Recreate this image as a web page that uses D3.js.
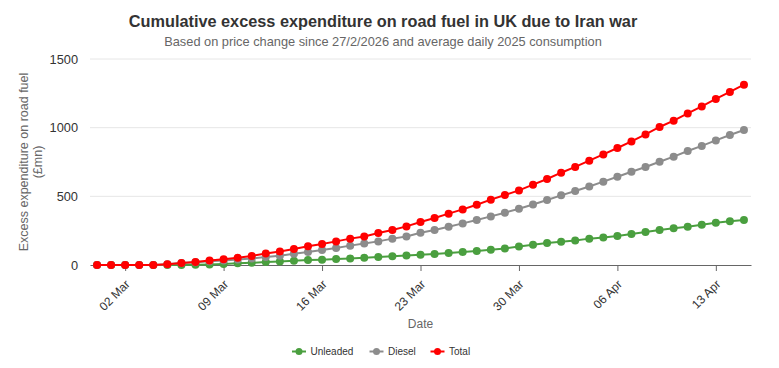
<!DOCTYPE html>
<html>
<head>
<meta charset="utf-8">
<script src="https://cdn.jsdelivr.net/npm/d3@7"></script>
<style>
  body { margin: 0; background: #fff; }
  svg { font-family: "Liberation Sans", Arial, sans-serif; }
</style>
</head>
<body>
<svg id="chart" width="779" height="368"></svg>
<script>
// data: one point per day, 28 Feb to 15 Apr 2026
const startDate = new Date(2026, 1, 28);
const dayCount  = 47;

const unleaded = [0, 0, 0, 0, 0, 0, 0, 2, 4, 8, 12, 16, 22, 26, 31, 36, 39, 44, 48, 53,
  58, 63, 69, 74, 80, 87, 95, 102, 111, 121, 135, 148, 160, 170, 179, 192, 201, 211,
  226, 240, 255, 267, 279, 293, 308, 318, 328];
const diesel = [0, 0, 0, 0, 0, 5, 14, 20, 27, 33, 40, 48, 58, 68, 82, 95, 109, 124, 141,
  157, 172, 192, 208, 235, 255, 279, 303, 328, 354, 381, 410, 441, 473, 507, 539, 572,
  607, 643, 679, 714, 752, 789, 830, 867, 907, 947, 983];
const total = [0, 0, 0, 0, 0, 5, 15, 22, 32, 41, 52, 66, 84, 99, 116, 136, 153, 172, 192,
  208, 233, 255, 281, 313, 342, 374, 405, 439, 476, 510, 543, 585, 626, 672, 714, 760,
  805, 852, 900, 951, 1005, 1051, 1104, 1155, 1209, 1260, 1313];

const seriesNames  = ["Unleaded", "Diesel", "Total"];
const seriesColors = ["#4a9f3f", "#8c8c8c", "#ff0000"];
const yTicks = [0, 500, 1000, 1500];
const xTickDates = [new Date(2026, 2, 2), new Date(2026, 2, 9), new Date(2026, 2, 16),
  new Date(2026, 2, 23), new Date(2026, 2, 30), new Date(2026, 3, 6), new Date(2026, 3, 13)];

const dates = d3.range(dayCount).map(i => d3.timeDay.offset(startDate, i));
const series = [unleaded, diesel, total].map((vals, k) => ({
  name: seriesNames[k],
  color: seriesColors[k],
  points: vals.map((v, i) => ({ date: dates[i], value: v }))
}));

const svg = d3.select("#chart");
const margin = { left: 90, right: 28, top: 59, bottom: 103 };
const W = 779, H = 368;

// half a day of padding on each side of the dates
const x = d3.scaleTime()
  .domain([d3.timeHour.offset(dates[0], -12), d3.timeHour.offset(dates[dayCount - 1], 12)])
  .range([margin.left, W - margin.right]);
const y = d3.scaleLinear()
  .domain([0, 1500])
  .range([H - margin.bottom, margin.top]);

// title + subtitle
svg.append("text")
  .attr("x", 383).attr("y", 27)
  .attr("text-anchor", "middle")
  .style("font-size", "16.3px").style("font-weight", "bold").style("fill", "#333")
  .text("Cumulative excess expenditure on road fuel in UK due to Iran war");
svg.append("text")
  .attr("x", 383).attr("y", 46)
  .attr("text-anchor", "middle")
  .style("font-size", "12.8px").style("fill", "#666")
  .text("Based on price change since 27/2/2026 and average daily 2025 consumption");

// gridlines
svg.append("g")
  .selectAll("line")
  .data(yTicks.filter(d => d > 0))
  .join("line")
    .attr("x1", margin.left).attr("x2", W - margin.right)
    .attr("y1", d => y(d)).attr("y2", d => y(d))
    .attr("stroke", "#e6e6e6").attr("stroke-width", 1);

// y axis labels
const yAxis = svg.append("g")
  .attr("transform", `translate(${margin.left}, 0)`)
  .call(d3.axisLeft(y).tickValues(yTicks).tickFormat(d3.format("d")).tickSize(0).tickPadding(12));
yAxis.select(".domain").remove();
yAxis.selectAll("text")
  .style("font-size", "12.8px").style("fill", "#333")
  .style("font-family", "'Liberation Sans', Arial, sans-serif");

// y axis title, two lines
const yTitle = svg.append("text")
  .attr("transform", `translate(28, ${(y(0) + y(1500)) / 2}) rotate(-90)`)
  .attr("text-anchor", "middle")
  .style("font-size", "12.5px").style("fill", "#666");
yTitle.append("tspan").attr("x", 0).attr("dy", 0).text("Excess expenditure on road fuel");
yTitle.append("tspan").attr("x", 0).attr("dy", 14).text("(£mn)");

// x axis
const xAxis = svg.append("g")
  .attr("transform", `translate(0, ${y(0)})`)
  .call(d3.axisBottom(x).tickValues(xTickDates).tickFormat(d3.timeFormat("%d %b")).tickSize(6).tickSizeOuter(0));
xAxis.select(".domain").attr("stroke", "#666");
xAxis.selectAll(".tick line").attr("stroke", "#666");
xAxis.selectAll("text")
  .style("font-size", "12px").style("fill", "#333")
  .style("font-family", "'Liberation Sans', Arial, sans-serif")
  .attr("text-anchor", "end")
  .attr("x", 0).attr("y", 0).attr("dx", 0).attr("dy", "0.35em")
  .attr("transform", "translate(2, 17) rotate(-45)");

svg.append("text")
  .attr("x", (margin.left + W - margin.right) / 2).attr("y", 328)
  .attr("text-anchor", "middle")
  .style("font-size", "12px").style("fill", "#666")
  .text("Date");

// lines + markers
const line = d3.line().x(d => x(d.date)).y(d => y(d.value));
const g = svg.append("g");
series.forEach(s => {
  g.append("path")
    .datum(s.points)
    .attr("d", line)
    .attr("fill", "none")
    .attr("stroke", s.color)
    .attr("stroke-width", 2);
  g.selectAll(null)
    .data(s.points)
    .join("circle")
      .attr("cx", d => x(d.date))
      .attr("cy", d => y(d.value))
      .attr("r", 4)
      .attr("fill", s.color);
});

// legend
const legendX = [292, 369.5, 430.5];
const legend = svg.append("g").attr("transform", "translate(0, 351.5)");
series.forEach((s, i) => {
  const item = legend.append("g").attr("transform", `translate(${legendX[i]}, 0)`);
  item.append("line").attr("x1", 0).attr("x2", 14).attr("y1", 0).attr("y2", 0)
    .attr("stroke", s.color).attr("stroke-width", 2);
  item.append("circle").attr("cx", 7).attr("cy", 0).attr("r", 3.5).attr("fill", s.color);
  item.append("text").attr("x", 18.5).attr("y", 3.6)
    .style("font-size", "10px").style("fill", "#333")
    .text(s.name);
});
</script>
</body>
</html>
